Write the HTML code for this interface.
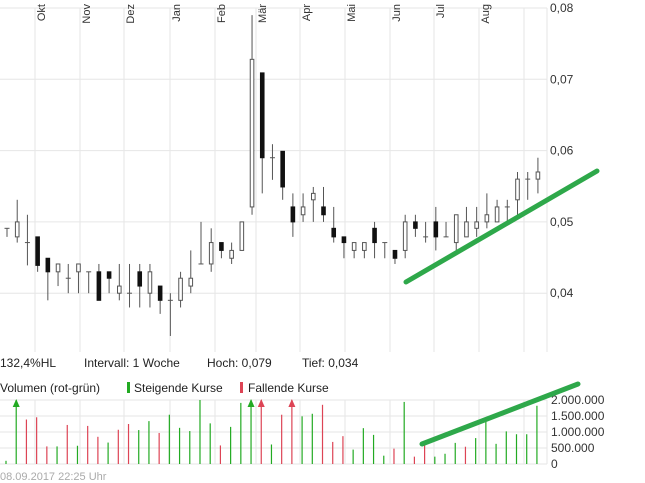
<!DOCTYPE html>
<html><head><meta charset="utf-8">
<style>
body{margin:0;background:#fff;font-family:"Liberation Sans",sans-serif;}
svg{display:block}
text{font-family:"Liberation Sans",sans-serif;}
</style></head>
<body>
<svg id="c" width="645" height="483"></svg>
<script>
const months=["Okt","Nov","Dez","Jan","Feb","Mär","Apr","Mai","Jun","Jul","Aug"];
const monthX=[35,80,124,170,215,256,300,345,390,434,479];
const yTicks=[0.08,0.07,0.06,0.05,0.04];
const opens=[.0491,.0479,.0471,.0479,.0449,.0430,.0421,.0430,.0430,.0430,.0430,.0400,.0400,.0430,.0400,.0410,.0390,.0390,.0410,.0441,.0441,.0471,.0449,.0460,.0521,.0709,.0590,.0599,.0521,.0510,.0531,.0521,.0491,.0479,.0460,.0460,.0491,.0471,.0460,.0460,.0500,.0479,.0500,.0479,.0471,.0479,.0491,.0500,.0500,.0521,.0531,.0560,.0560];
const highs=[.0491,.0531,.0510,.0479,.0449,.0441,.0441,.0441,.0430,.0441,.0430,.0441,.0441,.0441,.0441,.0410,.0400,.0430,.0460,.0500,.0491,.0471,.0471,.0500,.0790,.0709,.0609,.0599,.0540,.0540,.0549,.0549,.0521,.0479,.0471,.0471,.0500,.0471,.0460,.0510,.0510,.0500,.0521,.0500,.0510,.0521,.0521,.0540,.0531,.0531,.0570,.0570,.0590];
const lows=[.0479,.0471,.0439,.0430,.0390,.0410,.0400,.0400,.0400,.0390,.0400,.0390,.0380,.0380,.0380,.0371,.0340,.0380,.0400,.0441,.0430,.0449,.0441,.0460,.0510,.0540,.0559,.0531,.0479,.0500,.0500,.0500,.0471,.0449,.0449,.0449,.0449,.0449,.0441,.0449,.0479,.0471,.0460,.0479,.0460,.0479,.0479,.0491,.0500,.0500,.0510,.0531,.0540];
const closes=[.0491,.0500,.0471,.0439,.0430,.0441,.0421,.0441,.0430,.0390,.0421,.0410,.0400,.0410,.0430,.0390,.0390,.0421,.0421,.0441,.0471,.0460,.0460,.0500,.0728,.0590,.0590,.0549,.0500,.0521,.0540,.0510,.0479,.0471,.0471,.0471,.0471,.0471,.0449,.0500,.0491,.0479,.0479,.0479,.0510,.0500,.0500,.0510,.0521,.0521,.0560,.0560,.0570];
const volumes=[0.1,2.5,1.39,1.46,0.55,0.55,1.22,0.57,1.19,0.85,0.67,1.07,1.25,1.06,1.34,0.97,1.54,1.13,1.03,2.0,1.27,0.58,1.16,1.91,2.5,2.5,0.61,1.54,2.5,1.49,1.57,1.85,0.69,0.87,0.45,1.12,0.91,0.26,0.48,1.94,0.23,0.63,0.23,0.32,0.66,0.54,0.81,1.34,0.63,1.02,0.93,0.93,1.82];
const volRising="GGRRRGRGRRGRRGGRGGGGGRGGGRGRRGGRRRGGGGRGRRGGGRGGGGGGG";
const volTicks=["2.000.000","1.500.000","1.000.000","500.000","0"];

const NS="http://www.w3.org/2000/svg";
const svg=document.getElementById('c');
function el(t,a,p){const e=document.createElementNS(NS,t);for(const k in a)e.setAttribute(k,a[k]);(p||svg).appendChild(e);return e;}
const py=v=>8+(0.08-v)*7130;
const cx=i=>7+i*10.21;
const vy=v=>464-Math.min(v,2)*32;

const g=el('g',{});


yTicks.forEach(t=>{el('line',{x1:0,x2:547,y1:py(t),y2:py(t),stroke:'#e6e6e6'},g);});
monthX.forEach(x=>{el('line',{x1:x,x2:x,y1:8,y2:352,stroke:'#e6e6e6'},g);});
[524,547].forEach(x=>el('line',{x1:x,x2:x,y1:8,y2:352,stroke:'#e6e6e6'},g));
yTicks.forEach(t=>{const tx=el('text',{x:550,y:py(t)+4,'font-size':12,fill:'#333'});tx.textContent=t.toFixed(2).replace('.',',');

});
months.forEach((m,i)=>{const tx=el('text',{transform:`translate(${monthX[i]+10},4) rotate(-90)`,'text-anchor':'end','font-size':11,fill:'#333'});tx.textContent=m;

});

opens.forEach((o,i)=>{
  const x=cx(i),c=closes[i],up=c>o;
  const cg=el('g',{});
  
  
  el('line',{x1:x,x2:x,y1:py(highs[i]),y2:py(lows[i]),stroke:'#555','stroke-width':1},cg);
  const top=py(Math.max(o,c)),bot=py(Math.min(o,c));
  if(Math.abs(bot-top)<1.5){el('line',{x1:x-2.5,x2:x+2.5,y1:top,y2:top,stroke:'#555'},cg);}
  else el('rect',{x:x-1.8,y:top,width:3.6,height:bot-top,fill:up?'#fff':'#111',stroke:up?'#555':'#111','stroke-width':1},cg);
});
const t1=el('line',{x1:406,y1:282,x2:597,y2:171,stroke:'#2ea84a','stroke-width':5,'stroke-linecap':'round'});



[["132,4%HL",0],["Intervall: 1 Woche",84],["Hoch:  0,079",207],["Tief:  0,034",302]].forEach(([s,x])=>{const tx=el('text',{x:x,y:367,'font-size':12,fill:'#222','xml:space':'preserve'});tx.textContent=s;

});
let tx=el('text',{x:0,y:392,'font-size':12,fill:'#222'});tx.textContent="Volumen (rot-grün)";


el('rect',{x:127,y:382,width:3,height:11,fill:'#22aa22'});
tx=el('text',{x:134,y:392,'font-size':12,fill:'#222'});tx.textContent="Steigende Kurse";


el('rect',{x:240,y:382,width:3,height:11,fill:'#dd4455'});
tx=el('text',{x:248,y:392,'font-size':12,fill:'#222'});tx.textContent="Fallende Kurse";



[0,0.5,1,1.5,2].forEach(v=>el('line',{x1:0,x2:547,y1:vy(v),y2:vy(v),stroke:'#e6e6e6'}));
monthX.concat([524,547]).forEach(x=>el('line',{x1:x,x2:x,y1:400,y2:464,stroke:'#e6e6e6'}));
volTicks.forEach((s,i)=>{const t=el('text',{x:551,y:404+i*16,'font-size':12,fill:'#333'});t.textContent=s;

});
volumes.forEach((v,i)=>{
  const x=cx(i)-1,col=volRising[i]==='G'?'#22aa22':'#dd4455';
  const b=el('line',{x1:x,x2:x,y1:464,y2:vy(v),stroke:col,'stroke-width':1.2});
  
  
  if(v>2){el('polygon',{points:`${x-3.5},407 ${x+3.5},407 ${x},399`,fill:col});}
});
const t2=el('line',{x1:422,y1:444,x2:578,y2:384,stroke:'#2ea84a','stroke-width':5,'stroke-linecap':'round'});


tx=el('text',{x:0,y:480,'font-size':11,fill:'#aaa'});tx.textContent="08.09.2017 22:25 Uhr";


</script>
</body></html>
